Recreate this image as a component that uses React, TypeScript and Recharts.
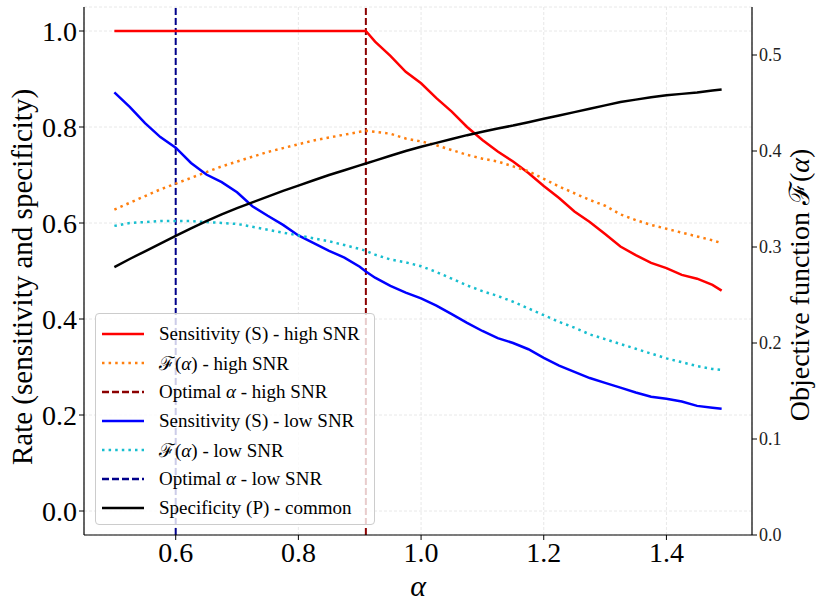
import { LineChart, Line, XAxis, YAxis, CartesianGrid, ReferenceLine } from "recharts";

// alpha grid shared by every series
const ALPHA = [
  0.5, 0.525, 0.55, 0.575, 0.6, 0.625, 0.65, 0.675, 0.7, 0.725, 0.75, 0.775, 0.8, 0.825, 0.85, 0.875, 0.9,
  0.91,
  0.925, 0.95, 0.975, 1.0, 1.025, 1.05, 1.075, 1.1, 1.125, 1.15, 1.175, 1.2, 1.225, 1.25, 1.275, 1.3, 1.325, 1.35, 1.375, 1.4, 1.425, 1.45, 1.475,
  1.49,
];

// rates (left axis)
const SENS_HIGH = [
  1, 1, 1, 1, 1, 1, 1, 1, 1, 1, 1, 1, 1, 1, 1, 1, 1,
  1,
  0.978, 0.948, 0.915, 0.891, 0.86, 0.832, 0.8, 0.773, 0.749, 0.728, 0.704, 0.677, 0.652, 0.624, 0.602, 0.577, 0.551, 0.533, 0.517, 0.506, 0.492, 0.484, 0.471,
  0.459,
];
const SENS_LOW = [
  0.872, 0.842, 0.808, 0.779, 0.757, 0.725, 0.701, 0.685, 0.664, 0.635, 0.615, 0.596, 0.574, 0.558, 0.542, 0.528, 0.509,
  0.499,
  0.486, 0.469, 0.455, 0.443, 0.428, 0.41, 0.392, 0.375, 0.36, 0.35, 0.337, 0.319, 0.303, 0.29, 0.277, 0.267, 0.257, 0.247, 0.238, 0.234, 0.228, 0.219, 0.215,
  0.213,
];
const SPEC = [
  0.508, 0.525, 0.541, 0.557, 0.573, 0.589, 0.604, 0.618, 0.631, 0.643, 0.655, 0.667, 0.678, 0.689, 0.7, 0.71, 0.72,
  0.724,
  0.73, 0.74, 0.75, 0.759, 0.767, 0.775, 0.783, 0.79, 0.797, 0.803, 0.81, 0.817, 0.824, 0.831, 0.838, 0.845, 0.852, 0.857, 0.862, 0.866, 0.869, 0.872, 0.876,
  0.878,
];

// objective function (right axis)
const OBJ_HIGH = [
  0.339, 0.346, 0.353, 0.36, 0.366, 0.372, 0.378, 0.384, 0.389, 0.394, 0.399, 0.403, 0.407, 0.411, 0.414, 0.417, 0.42,
  0.421,
  0.42, 0.418, 0.413, 0.41, 0.406, 0.401, 0.396, 0.392, 0.389, 0.384, 0.379, 0.371, 0.363, 0.356, 0.349, 0.343, 0.334, 0.328, 0.323, 0.319, 0.315, 0.311, 0.307,
  0.304,
];
const OBJ_LOW = [
  0.322, 0.325, 0.326, 0.327, 0.327, 0.327, 0.326, 0.325, 0.324, 0.321, 0.318, 0.315, 0.312, 0.309, 0.306, 0.302, 0.298,
  0.296,
  0.292, 0.287, 0.284, 0.28, 0.274, 0.267, 0.26, 0.254, 0.249, 0.243, 0.236, 0.229, 0.222, 0.216, 0.209, 0.204, 0.199, 0.194, 0.189, 0.184, 0.18, 0.176, 0.173,
  0.172,
];

const OPT_HIGH = 0.91;
const OPT_LOW = 0.6;

const X_TICKS = [0.6, 0.8, 1.0, 1.2, 1.4];
const LEFT_TICKS = [0, 0.2, 0.4, 0.6, 0.8, 1.0];
const RIGHT_TICKS = [0, 0.1, 0.2, 0.3, 0.4, 0.5];

const data = ALPHA.map((a, i) => ({
  alpha: a,
  sensHigh: SENS_HIGH[i],
  sensLow: SENS_LOW[i],
  spec: SPEC[i],
  objHigh: OBJ_HIGH[i],
  objLow: OBJ_LOW[i],
}));

const FONT = "'Liberation Serif', 'DejaVu Serif', serif";
const DOT = "2.5 4.1";
const DASH = "7 3";

const legendItems = [
  { label: <>Sensitivity (S) - high SNR</>, color: "#ff0000", dash: undefined },
  { label: <>ℱ(<i>α</i>) - high SNR</>, color: "#ff7f0e", dash: DOT },
  { label: <>Optimal <i>α</i> - high SNR</>, color: "#8b0000", dash: DASH },
  { label: <>Sensitivity (S) - low SNR</>, color: "#0000ff", dash: undefined },
  { label: <>ℱ(<i>α</i>) - low SNR</>, color: "#17becf", dash: DOT },
  { label: <>Optimal <i>α</i> - low SNR</>, color: "#00008b", dash: DASH },
  { label: <>Specificity (P) - common</>, color: "#000000", dash: undefined },
];

const LeftLabel = ({ viewBox }: any) => {
  const cx = viewBox.x + 22;
  const cy = viewBox.y + 270;
  return (
    <text
      x={cx}
      y={cy}
      transform={`rotate(-90, ${cx}, ${cy})`}
      textAnchor="middle"
      dominantBaseline="central"
      fontFamily={FONT}
      fontSize={29}
      fill="#000"
    >
      Rate (sensitivity and specificity)
    </text>
  );
};

const RightLabel = ({ viewBox }: any) => {
  const cx = viewBox.x + 47;
  const cy = viewBox.y + 278;
  return (
    <text
      x={cx}
      y={cy}
      transform={`rotate(-90, ${cx}, ${cy})`}
      textAnchor="middle"
      dominantBaseline="central"
      fontFamily={FONT}
      fontSize={28}
      fill="#000"
    >
      Objective function ℱ(<tspan fontStyle="italic">α</tspan>)
    </text>
  );
};

const BottomLabel = ({ viewBox }: any) => (
  <text
    x={viewBox.x + viewBox.width / 2}
    y={viewBox.y + 50}
    textAnchor="middle"
    dominantBaseline="central"
    fontFamily={FONT}
    fontStyle="italic"
    fontSize={30}
    fill="#000"
  >
    α
  </text>
);

export default function App() {
  return (
    <div style={{ position: "absolute", left: 0, top: 0, width: 822, height: 606, background: "#fff" }}>
      <LineChart width={822} height={606} data={data} margin={{ top: 7, right: 0, left: 0, bottom: 0 }}>
        <CartesianGrid yAxisId="left" stroke="#e2e2e2" strokeDasharray="3 2" strokeWidth={0.8} />
        <XAxis
          type="number"
          dataKey="alpha"
          domain={[0.4505, 1.5395]}
          allowDataOverflow
          ticks={X_TICKS}
          tickFormatter={(v: number) => v.toFixed(1)}
          height={71}
          axisLine={{ stroke: "#000", strokeWidth: 1.2 }}
          tickLine={{ stroke: "#000" }}
          tickSize={5}
          tick={{ fontFamily: FONT, fontSize: 28, fill: "#000" }}
          label={<BottomLabel />}
        />
        <XAxis
          xAxisId="top"
          orientation="top"
          type="number"
          domain={[0, 1]}
          height={0}
          tick={false}
          tickLine={false}
          axisLine={{ stroke: "#000", strokeWidth: 1.2 }}
        />
        <YAxis
          yAxisId="left"
          domain={[-0.05, 1.05]}
          allowDataOverflow
          ticks={LEFT_TICKS}
          tickFormatter={(v: number) => v.toFixed(1)}
          width={84}
          axisLine={{ stroke: "#000", strokeWidth: 1.2 }}
          tickLine={{ stroke: "#000" }}
          tickSize={5}
          tick={{ fontFamily: FONT, fontSize: 28, fill: "#000" }}
          label={<LeftLabel />}
        />
        <YAxis
          yAxisId="right"
          orientation="right"
          domain={[0, 0.55]}
          allowDataOverflow
          ticks={RIGHT_TICKS}
          tickFormatter={(v: number) => v.toFixed(1)}
          width={70}
          axisLine={{ stroke: "#000", strokeWidth: 1.2 }}
          tickLine={{ stroke: "#000" }}
          tickSize={5}
          tick={{ fontFamily: FONT, fontSize: 18, fill: "#222" }}
          label={<RightLabel />}
        />
        <ReferenceLine yAxisId="left" x={OPT_LOW} stroke="#00008b" strokeWidth={2} strokeDasharray={DASH} />
        <ReferenceLine yAxisId="left" x={OPT_HIGH} stroke="#8b0000" strokeWidth={2} strokeDasharray={DASH} />
        <Line yAxisId="left" dataKey="sensHigh" stroke="#ff0000" strokeWidth={2.5} dot={false} isAnimationActive={false} />
        <Line yAxisId="right" dataKey="objHigh" stroke="#ff7f0e" strokeWidth={2.5} strokeDasharray={DOT} dot={false} isAnimationActive={false} />
        <Line yAxisId="left" dataKey="sensLow" stroke="#0000ff" strokeWidth={2.5} dot={false} isAnimationActive={false} />
        <Line yAxisId="right" dataKey="objLow" stroke="#17becf" strokeWidth={2.5} strokeDasharray={DOT} dot={false} isAnimationActive={false} />
        <Line yAxisId="left" dataKey="spec" stroke="#000000" strokeWidth={2.5} dot={false} isAnimationActive={false} />
      </LineChart>

      <div
        style={{
          position: "absolute",
          left: 95,
          top: 313,
          width: 280,
          height: 212,
          boxSizing: "border-box",
          border: "1px solid #cccccc",
          borderRadius: 4,
          background: "rgba(255,255,255,0.8)",
          fontFamily: FONT,
          fontSize: 19,
          paddingTop: 5,
        }}
      >
        {legendItems.map((it, i) => (
          <div key={i} style={{ display: "flex", alignItems: "center", height: 29 }}>
            <svg width={42} height={6} style={{ marginLeft: 6, marginRight: 15 }}>
              <line x1={0} y1={3} x2={42} y2={3} stroke={it.color} strokeWidth={2.5} strokeDasharray={it.dash} />
            </svg>
            <span style={{ whiteSpace: "nowrap" }}>{it.label}</span>
          </div>
        ))}
      </div>
    </div>
  );
}
